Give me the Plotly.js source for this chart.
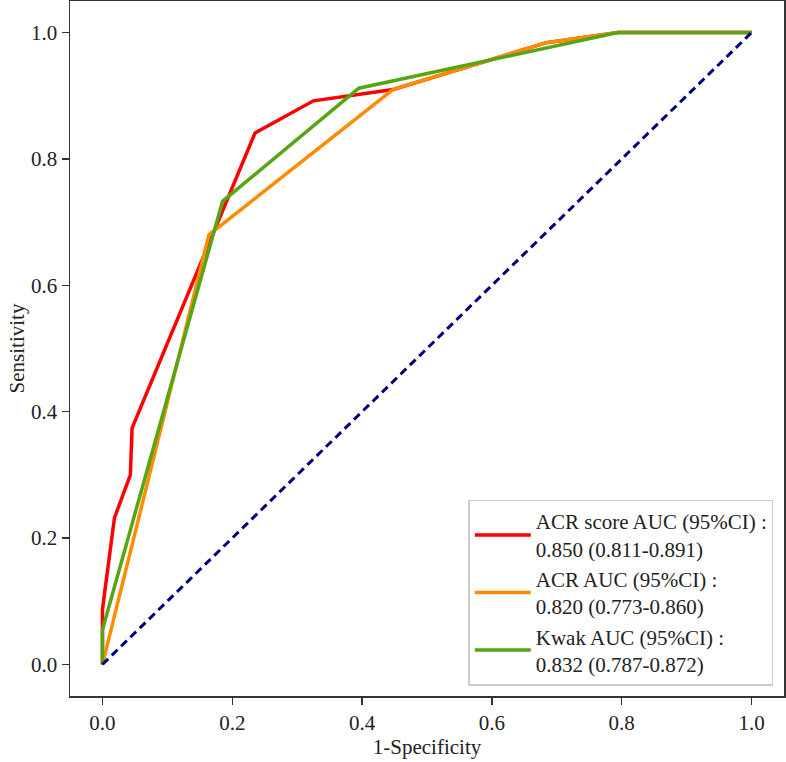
<!DOCTYPE html>
<html>
<head>
<meta charset="utf-8">
<script src="https://cdn.plot.ly/plotly-3.0.1.min.js"></script>
<style>html,body{margin:0;padding:0;background:#fff;}#chart{width:786px;height:762px;}</style>
</head>
<body>
<div id="chart"></div>
<script>
// ROC curve data
const acrScoreFpr = [0, 0, 0.0185, 0.043, 0.0456, 0.235, 0.325, 0.448, 0.684, 0.794, 1.0];
const acrScoreTpr = [0, 0.087, 0.232, 0.300, 0.374, 0.841, 0.892, 0.910, 0.984, 1.0, 1.0];
const acrFpr = [0, 0.164, 0.448, 0.684, 0.794, 1.0];
const acrTpr = [0, 0.680, 0.910, 0.984, 1.0, 1.0];
const kwakFpr = [0, 0, 0.185, 0.395, 0.794, 1.0];
const kwakTpr = [0, 0.055, 0.733, 0.912, 1.0, 1.0];
const diagX = [0, 1];
const diagY = [0, 1];
const seriesNames = [
  'ACR score AUC (95%CI) :<br>0.850 (0.811-0.891)',
  'ACR AUC (95%CI) :<br>0.820 (0.773-0.860)',
  'Kwak AUC (95%CI) :<br>0.832 (0.787-0.872)'
];
const tickVals = [0, 0.2, 0.4, 0.6, 0.8, 1.0];
const tickText = ['0.0', '0.2', '0.4', '0.6', '0.8', '1.0'];

const font = 'Liberation Serif, Times New Roman, serif';
const traces = [
  {x: acrScoreFpr, y: acrScoreTpr, mode: 'lines', name: seriesNames[0], line: {color: '#ff0000', width: 3.5}},
  {x: acrFpr, y: acrTpr, mode: 'lines', name: seriesNames[1], line: {color: '#ff8c00', width: 3.5}},
  {x: kwakFpr, y: kwakTpr, mode: 'lines', name: seriesNames[2], line: {color: '#55a514', width: 3.5}},
  {x: diagX, y: diagY, mode: 'lines', showlegend: false, line: {color: '#000080', width: 3, dash: '8px,5px'}}
];

const axisCommon = {
  range: [-0.05, 1.05],
  tickvals: tickVals,
  ticktext: tickText,
  showgrid: false,
  zeroline: false,
  showline: true,
  mirror: true,
  linecolor: '#333',
  linewidth: 1.5,
  ticks: 'outside',
  ticklen: 7,
  tickwidth: 1.5,
  tickcolor: '#333',
  tickfont: {family: font, size: 21, color: '#222'}
};

const layout = {
  width: 786,
  height: 762,
  margin: {l: 70, r: 2, t: 1, b: 66},
  paper_bgcolor: '#fff',
  plot_bgcolor: '#fff',
  font: {family: font, color: '#222'},
  xaxis: Object.assign({}, axisCommon, {
    title: {text: '1-Specificity', font: {family: font, size: 21, color: '#222'}, standoff: 5}
  }),
  yaxis: Object.assign({}, axisCommon, {
    title: {text: 'Sensitivity', font: {family: font, size: 21, color: '#222'}, standoff: 0}
  }),
  legend: {
    x: 0.985, y: 0.015, xanchor: 'right', yanchor: 'bottom',
    bgcolor: 'rgba(255,255,255,0.9)',
    bordercolor: '#cccccc',
    borderwidth: 1.5,
    font: {family: font, size: 21, color: '#222'},
    itemwidth: 56,
    tracegroupgap: 0
  },
  showlegend: true
};

Plotly.newPlot('chart', traces, layout, {displayModeBar: false, staticPlot: true});
</script>
</body>
</html>
